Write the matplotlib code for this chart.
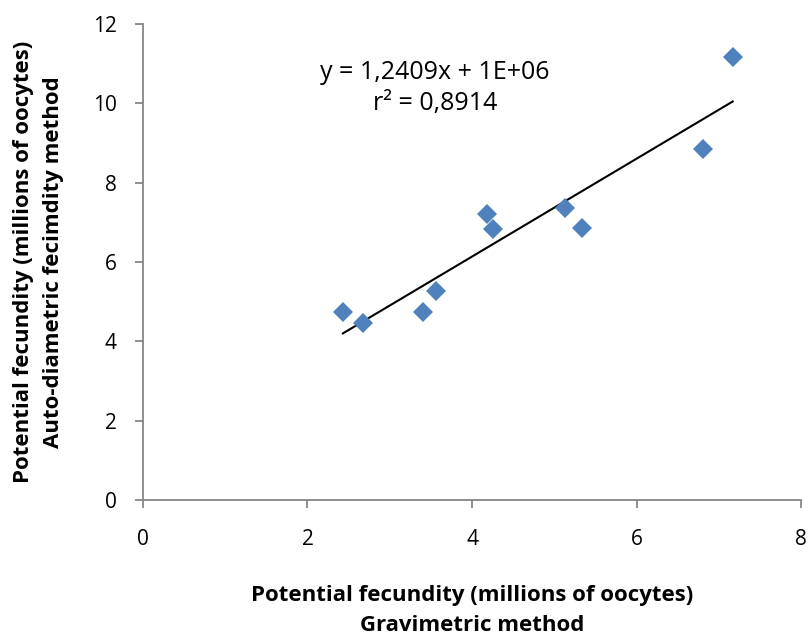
import numpy as np
import matplotlib.pyplot as plt

plt.rcParams['font.family'] = ['Open Sans', 'DejaVu Sans']

# Fecundidad potencial (millones de ovocitos)
gravimetric = [2.43, 2.67, 3.40, 3.56, 4.18, 4.26, 5.13, 5.34, 6.81, 7.17]
auto_diametric = [4.75, 4.45, 4.73, 5.27, 7.20, 6.82, 7.37, 6.86, 8.85, 11.17]

x_ticks = [0, 2, 4, 6, 8]
y_ticks = [0, 2, 4, 6, 8, 10, 12]

# Recta de ajuste por minimos cuadrados
coeffs = np.polyfit(gravimetric, auto_diametric, 1)
fit = np.poly1d(coeffs)
x_fit = np.array([min(gravimetric), max(gravimetric)])

fig = plt.figure(figsize=(8.11, 6.37), dpi=100)
ax = fig.add_axes([0.1763, 0.2151, 0.8114, 0.7472])

ax.plot(gravimetric, auto_diametric, 'D', color='#4F81BD', markersize=10.5,
        markeredgewidth=0, zorder=3)
ax.plot(x_fit, fit(x_fit), color='black', linewidth=1.5, zorder=2)

ax.text(3.55, 10.79, 'y = 1,2409x + 1E+06', ha='center', va='center', fontsize=18)
ax.text(3.55, 10.0, 'r² = 0,8914', ha='center', va='center', fontsize=18)

ax.set_xlim(0, 8)
ax.set_ylim(0, 12)
ax.set_xticks(x_ticks)
ax.set_yticks(y_ticks)
for s in ['top', 'right']:
    ax.spines[s].set_visible(False)
for s in ['left', 'bottom']:
    ax.spines[s].set_color('#868686')
    ax.spines[s].set_linewidth(1.3)
ax.tick_params(direction='out', length=6, width=1.3, color='#868686',
               labelsize=15)
ax.tick_params(axis='x', pad=15)
ax.tick_params(axis='y', pad=13)

ax.set_xlabel('Potential fecundity (millions of oocytes)\nGravimetric method',
              fontsize=16, fontweight='bold', labelpad=25, linespacing=1.55)
ax.set_ylabel('Potential fecundity (millions of oocytes)\nAuto-diametric fecimdity method',
              fontsize=16, fontweight='bold', labelpad=21, linespacing=1.55)

fig.savefig('out.png', dpi=100)
